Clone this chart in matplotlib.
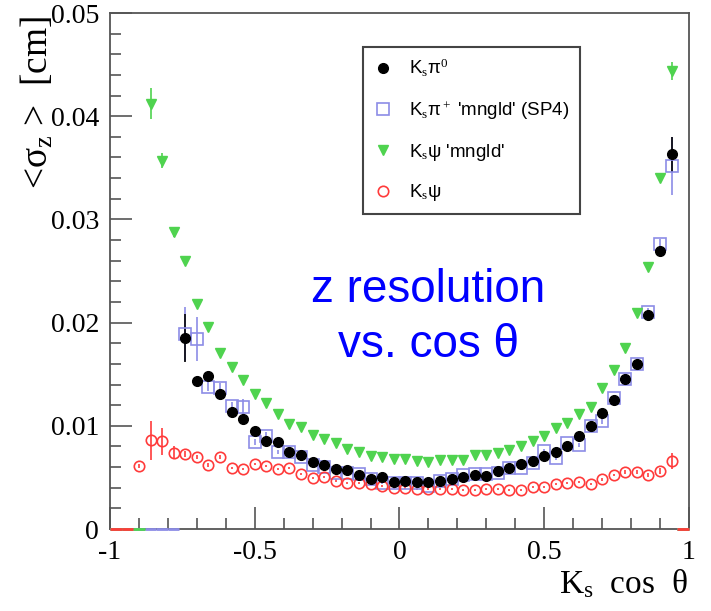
import numpy as np
import matplotlib
matplotlib.use('Agg')
import matplotlib.pyplot as plt
from matplotlib.ticker import MultipleLocator

plt.rcParams['font.family'] = ['Liberation Serif', 'DejaVu Serif']
plt.rcParams['mathtext.fontset'] = 'custom'
plt.rcParams['mathtext.rm'] = 'Liberation Serif'
plt.rcParams['mathtext.it'] = 'Liberation Serif:italic'

# 50 bins in cos(theta), empty bins are 0
bin_edges = np.linspace(-1, 1, 51)
centers = 0.5 * (bin_edges[:-1] + bin_edges[1:])

ks_pi0 = [0, 0, 0, 0, 0, 0,
          0.0185, 0.0143, 0.0148, 0.0131, 0.0113, 0.0107, 0.0095, 0.0085, 0.0084, 0.0075,
          0.0072, 0.0065, 0.0062, 0.0058, 0.0057, 0.0052, 0.0048, 0.0050, 0.0046, 0.0047,
          0.0046, 0.0046, 0.0047, 0.0048, 0.0050, 0.0052, 0.0051, 0.0056, 0.0059, 0.0063,
          0.0066, 0.0071, 0.0075, 0.0080, 0.0090, 0.0100, 0.0112, 0.0125, 0.0145, 0.0160,
          0.0207, 0.0269, 0.0363,
          0]
ks_pi0_err = [0, 0, 0, 0, 0, 0,
              0.0023, 0.0004, 0.0004, 0.0003, 0.0003, 0.0003, 0.0002, 0.0002, 0.0002, 0.0002,
              0.0002, 0.0002, 0.0002, 0.0001, 0.0001, 0.0001, 0.0001, 0.0001, 0.0001, 0.0001,
              0.0001, 0.0001, 0.0001, 0.0001, 0.0001, 0.0001, 0.0001, 0.0001, 0.0002, 0.0002,
              0.0002, 0.0002, 0.0002, 0.0002, 0.0002, 0.0002, 0.0002, 0.0002, 0.0002, 0.0003,
              0.0003, 0.0004, 0.0017,
              0]

ks_piplus = [0, 0, 0, 0, 0, 0,
             0.0189, 0.0184, 0.0138, 0.0137, 0.0119, 0.0118, 0.0084, 0.0090, 0.0075, 0.0075,
             0.0070, 0.0062, 0.0060, 0.0054, 0.0054, 0.0053, 0.0048, 0.0045, 0.0045, 0.0045,
             0.0045, 0.0042, 0.0047, 0.0048, 0.0052, 0.0053, 0.0053, 0.0054, 0.0059, 0.0059,
             0.0064, 0.0076, 0.0069, 0.0083, 0.0081, 0.0100, 0.0105, 0.0127, 0.0145, 0.0160,
             0.0210, 0.0276, 0.0352,
             0]
ks_piplus_err = [0, 0, 0, 0, 0, 0,
                 0.0026, 0.0021, 0.0004, 0.0004, 0.0004, 0.0008, 0.0003, 0.0004, 0.0002, 0.0002,
                 0.0002, 0.0002, 0.0002, 0.0002, 0.0002, 0.0002, 0.0001, 0.0001, 0.0001, 0.0001,
                 0.0001, 0.0001, 0.0001, 0.0001, 0.0001, 0.0001, 0.0001, 0.0002, 0.0002, 0.0002,
                 0.0002, 0.0002, 0.0002, 0.0002, 0.0002, 0.0002, 0.0003, 0.0003, 0.0003, 0.0003,
                 0.0004, 0.0005, 0.0028,
                 0]

ks_psi_mngld = [0, 0, 0,
                0.0412, 0.0357, 0.0288, 0.0260, 0.0218, 0.0196, 0.0171, 0.0157, 0.0144, 0.0131,
                0.0122, 0.0111, 0.0102, 0.0099, 0.0091, 0.0087, 0.0083, 0.0078, 0.0075, 0.0071,
                0.0070, 0.0068, 0.0068, 0.0066, 0.0065, 0.0067, 0.0067, 0.0067, 0.0072, 0.0072,
                0.0074, 0.0077, 0.0080, 0.0085, 0.0090, 0.0098, 0.0103, 0.0111, 0.0118, 0.0137,
                0.0154, 0.0175, 0.0209, 0.0254, 0.0340, 0.0444,
                0]
ks_psi_mngld_err = [0, 0, 0,
                    0.0015, 0.0007, 0.0005, 0.0002, 0.0002, 0.0001, 0.0001, 0.0001, 0.0001, 0.0001,
                    0.0001, 0.0001, 0.0001, 0.0001, 0.0001, 0.0001, 0.0001, 0.0001, 0.0001, 0.0001,
                    0.0001, 0.0001, 0.0001, 0.0001, 0.0001, 0.0001, 0.0001, 0.0001, 0.0001, 0.0001,
                    0.0001, 0.0001, 0.0001, 0.0001, 0.0001, 0.0001, 0.0001, 0.0001, 0.0001, 0.0002,
                    0.0002, 0.0002, 0.0002, 0.0003, 0.0004, 0.0009,
                    0]

ks_psi = [0, 0,
          0.0061, 0.0086, 0.0085, 0.0074, 0.0073, 0.0070, 0.0062, 0.0070, 0.0059, 0.0058,
          0.0063, 0.0061, 0.0058, 0.0059, 0.0053, 0.0049, 0.0050, 0.0047, 0.0045, 0.0045,
          0.0044, 0.0042, 0.0040, 0.0040, 0.0039, 0.0039, 0.0039, 0.0039, 0.0038, 0.0038,
          0.0039, 0.0039, 0.0038, 0.0038, 0.0041, 0.0041, 0.0044, 0.0045, 0.0046, 0.0044,
          0.0048, 0.0052, 0.0055, 0.0055, 0.0052, 0.0056, 0.0066,
          0]
ks_psi_err = [0, 0,
              0.0002, 0.0019, 0.0013, 0.0006, 0.0003, 0.0002, 0.0002, 0.0002, 0.0001, 0.0001,
              0.0001, 0.0001, 0.0001, 0.0001, 0.0001, 0.0001, 0.0001, 0.0001, 0.0001, 0.0001,
              0.0001, 0.0001, 0.0001, 0.0001, 0.0001, 0.0001, 0.0001, 0.0001, 0.0001, 0.0001,
              0.0001, 0.0001, 0.0001, 0.0001, 0.0001, 0.0001, 0.0001, 0.0001, 0.0001, 0.0001,
              0.0001, 0.0001, 0.0002, 0.0002, 0.0002, 0.0003, 0.0008,
              0]

labels = [r'K$_{\rm s}$π$^{\rm 0}$',
          r"K$_{\rm s}$π$^{\rm +}$ 'mngld' (SP4)",
          r"K$_{\rm s}$ψ 'mngld'",
          r'K$_{\rm s}$ψ']

xticks = [-1, -0.5, 0, 0.5, 1]
xticklabels = ['-1', '-0.5', '0', '0.5', '1']
yticks = [0, 0.01, 0.02, 0.03, 0.04, 0.05]
yticklabels = ['0', '0.01', '0.02', '0.03', '0.04', '0.05']

black = 'black'
blue = '#8c8ce6'
green = '#4fd34f'
red = '#ff3b3b'

fig = plt.figure(figsize=(7.11, 6.11), dpi=100)
ax = fig.add_axes([0.1547, 0.1342, 0.8143, 0.8445])


def split(values, errors):
    v = np.array(values)
    e = np.array(errors)
    full = v > 0
    return centers[full], v[full], e[full], centers[~full]


series = [
    (ks_pi0, ks_pi0_err, black, dict(marker='o', ms=7, mfc=black, mec=black)),
    (ks_piplus, ks_piplus_err, blue, dict(marker='s', ms=8, mfc='none', mec=blue, mew=1.2)),
    (ks_psi_mngld, ks_psi_mngld_err, green, dict(marker='v', ms=7.5, mfc=green, mec=green)),
    (ks_psi, ks_psi_err, red, dict(marker='o', ms=7.5, mfc='none', mec=red, mew=1.2)),
]

# empty bins: ROOT draws just the horizontal bin width on the axis
for values, errors, col, style in series[1:]:
    x, y, e, xz = split(values, errors)
    ax.errorbar(xz, np.zeros(len(xz)), xerr=0.02, fmt='none', ecolor=col,
                elinewidth=2, clip_on=False, zorder=3)

handles = {}
for i in [1, 2, 3, 0]:
    values, errors, col, style = series[i]
    x, y, e, xz = split(values, errors)
    ax.errorbar(x, y, yerr=e, fmt='none', ecolor=col, elinewidth=1.2, zorder=4)
    ax.plot(x, y, ls='none', zorder=5, **style)
    handles[i] = plt.Line2D([], [], ls='none', **style)

ax.set_xlim(-1, 1)
ax.set_ylim(0, 0.05)

ax.set_xticks(xticks)
ax.set_xticklabels(xticklabels)
ax.set_yticks(yticks)
ax.set_yticklabels(yticklabels)
ax.xaxis.set_minor_locator(MultipleLocator(0.1))
ax.yaxis.set_minor_locator(MultipleLocator(0.002))
ax.tick_params(which='both', direction='in', color='#555555', width=1.2,
               top=False, right=False, labelsize=20, pad=8)
ax.tick_params(which='major', length=16)
ax.tick_params(which='minor', length=8)
for s in ax.spines.values():
    s.set_color('#555555')
    s.set_linewidth(1.3)

fig.text(0.052, 0.975, r'<σ$_{\rm z}$ >  [cm]', rotation=90, ha='center', va='top',
         fontsize=27)
fig.text(0.968, 0.018, r'K$_{\rm s}$  cos  θ', ha='right', va='bottom', fontsize=24)

ax.text(0.55, 0.41, 'z resolution\nvs. cos θ', transform=ax.transAxes, ha='center',
        va='center', color='#0000ff', fontsize=33, family=['Liberation Sans', 'DejaVu Sans'],
        linespacing=1.3)

leg = ax.legend([handles[i] for i in range(4)], labels, loc='upper left',
                bbox_to_anchor=(0.437, 0.612, 0.375, 0.322), mode='expand',
                borderaxespad=0, frameon=True, fancybox=False, framealpha=1,
                prop={'family': ['Liberation Sans', 'DejaVu Sans'], 'size': 13.5},
                labelspacing=1.05, handlelength=1.0, handletextpad=0.9, borderpad=0.55)
leg.get_frame().set_edgecolor('#444444')
leg.get_frame().set_linewidth(1.5)

fig.savefig('out.png', dpi=100)
